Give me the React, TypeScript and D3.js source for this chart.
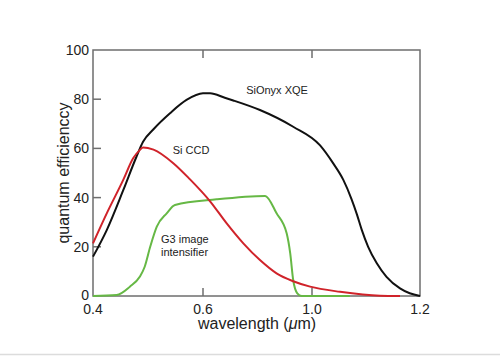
import React from "react";
import * as d3 from "d3";

const xTicks = [0.4, 0.6, 1.0, 1.2];
const xTickLabels = ["0.4", "0.6", "1.0", "1.2"];
const yTicks = [0, 20, 40, 60, 80, 100];

const sionyxX = [0.4, 0.425, 0.455, 0.479, 0.491, 0.51, 0.54, 0.57, 0.6, 0.626, 0.68, 0.711, 0.809, 0.931, 1.015, 1.039, 1.058, 1.073, 1.083, 1.092, 1.104, 1.12, 1.138, 1.163, 1.181, 1.2];
const sionyxY = [16, 26.8, 43, 56.6, 62.7, 67.8, 74.3, 79.7, 82.4, 82.4, 80.6, 79.5, 75.6, 68.8, 61.2, 54, 47.2, 39.5, 33.3, 27, 20, 13.3, 7.8, 3.1, 1.1, 0];

const ccdX = [0.4, 0.425, 0.455, 0.473, 0.485, 0.491, 0.51, 0.546, 0.576, 0.626, 0.687, 0.748, 0.809, 0.87, 0.931, 0.993, 1.052, 1.126, 1.163];
const ccdY = [21.4, 33.6, 47.2, 56, 59.3, 60.4, 59.5, 54, 47.5, 38.5, 29.5, 21.4, 14.6, 9.2, 6.0, 3.8, 1.7, 0.1, 0];

const g3X = [0.4, 0.443, 0.467, 0.485, 0.494, 0.504, 0.516, 0.534, 0.549, 0.65, 0.828, 0.87, 0.907, 0.92, 0.931, 0.946, 0.962, 0.993, 1.07];
const g3Y = [0, 0.4, 3.8, 7.8, 11.9, 20, 28.2, 33.6, 37, 39.3, 40.7, 33.6, 25.5, 17.4, 6.5, 1.1, 0, 0, 0];

const W = 500;
const H = 356;
const left = 93, right = 420, top = 50, bottom = 296;

export default function App() {
  const x = d3.scaleLinear().domain(xTicks).range([93, 203, 312, 420]);
  const y = d3.scaleLinear().domain([0, 100]).range([bottom, top]);
  const line = (xs: number[], ys: number[], curve: d3.CurveFactory) =>
    d3
      .line<number>()
      .x((_, i) => x(xs[i]))
      .y((d) => y(d))
      .curve(curve)(ys) || "";
  const axisColor = "#6e6e6e";
  const font = "Liberation Sans, Arial, Helvetica, sans-serif";
  return (
    <svg
      width={W}
      height={H}
      style={{ position: "absolute", left: 0, top: 0, background: "#fff" }}
      fontFamily={font}
    >
      <rect x={0} y={0} width={W} height={H} fill="#fff" />
      <line x1={0} x2={W} y1={354.5} y2={354.5} stroke="#dcdcdc" strokeWidth={1.5} />
      <rect x={left} y={top} width={right - left} height={bottom - top} fill="none" stroke={axisColor} strokeWidth={1.5} />
      {yTicks.slice(1, -1).map((t) => (
        <line key={"yt" + t} x1={left} x2={left + 8} y1={y(t)} y2={y(t)} stroke={axisColor} strokeWidth={1.5} />
      ))}
      {xTicks.slice(1, -1).map((t) => (
        <g key={"xt" + t}>
          <line x1={x(t)} x2={x(t)} y1={bottom} y2={bottom - 8} stroke={axisColor} strokeWidth={1.5} />
          <line x1={x(t)} x2={x(t)} y1={top} y2={top + 8} stroke={axisColor} strokeWidth={1.5} />
        </g>
      ))}
      {yTicks.map((t) => (
        <text key={"yl" + t} x={89} y={t === 0 ? y(t) - 1 : y(t)} dy="0.36em" textAnchor="end" fontSize={14} fill="#222">
          {t}
        </text>
      ))}
      {xTicks.map((t, i) => (
        <text key={"xl" + t} x={x(t)} y={314} textAnchor="middle" fontSize={14} fill="#222">
          {xTickLabels[i]}
        </text>
      ))}
      <text x={257} y={329} textAnchor="middle" fontSize={16} fill="#222">
        wavelength (<tspan fontStyle="italic">μ</tspan>m)
      </text>
      <text transform={`translate(69,173) rotate(-90)`} textAnchor="middle" fontSize={16} fill="#222">
        quantum efficienccy
      </text>
      <path d={line(sionyxX, sionyxY, d3.curveMonotoneX)} fill="none" stroke="#111" strokeWidth={2} />
      <path d={line(g3X, g3Y, d3.curveMonotoneX)} fill="none" stroke="#66b845" strokeWidth={2} />
      <path d={line(ccdX, ccdY, d3.curveMonotoneX)} fill="none" stroke="#d0232a" strokeWidth={2} />
      <text x={277} y={94} textAnchor="middle" fontSize={11} fill="#222">SiOnyx XQE</text>
      <text x={191} y={154} textAnchor="middle" fontSize={11} fill="#222">Si CCD</text>
      <text x={161} y={243} fontSize={11} fill="#222">G3 image</text>
      <text x={161} y={256} fontSize={11} fill="#222">intensifier</text>
    </svg>
  );
}
